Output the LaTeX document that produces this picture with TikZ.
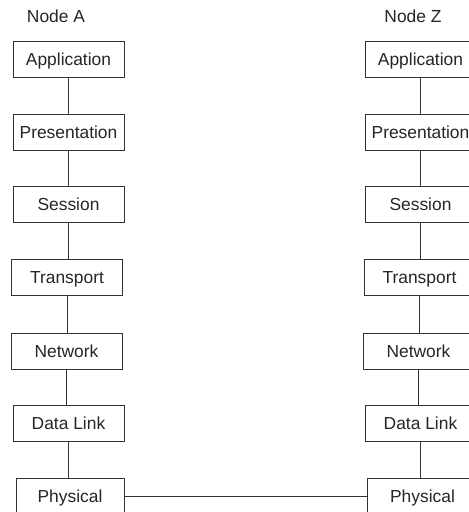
\documentclass[tikz,border=0pt]{standalone}
\usepackage{fontspec}
\setmainfont{Liberation Sans}
\begin{document}
\begin{tikzpicture}[x=1pt,y=-1pt,
  layer/.style={draw=black!80, line width=0.9pt, fill=white, text=black!85,
    minimum width=111pt, minimum height=36pt, inner sep=0pt,
    text height=12.5pt, text depth=0pt,
    font=\fontsize{17.4}{20}\selectfont},
  title/.style={text=black!85, inner sep=0pt, text height=12.5pt, text depth=0pt,
    font=\fontsize{17.4}{20}\selectfont},
  link/.style={draw=black!80, line width=0.9pt}]
\useasboundingbox (0,0) rectangle (469,512);
\clip (0,0) rectangle (469,512);

% End system A
\node[title] (titleA) at (56,16) {Node A};
\node[layer] (a7) at (68.5,59)  {Application};
\node[layer] (a6) at (68.5,132) {Presentation};
\node[layer] (a5) at (68.5,204.5) {Session};
\node[layer] (a4) at (67,277.5) {Transport};
\node[layer] (a3) at (66.5,351) {Network};
\node[layer] (a2) at (68.5,423) {Data Link};
\node[layer, minimum width=108pt] (a1) at (70,496) {Physical};

% End system Z
\node[title] (titleZ) at (413,16) {Node Z};
\node[layer] (z7) at (420.5,59)  {Application};
\node[layer] (z6) at (420.5,132) {Presentation};
\node[layer] (z5) at (420.5,204.5) {Session};
\node[layer] (z4) at (419.5,277.5) {Transport};
\node[layer] (z3) at (418.5,351) {Network};
\node[layer] (z2) at (420.5,423) {Data Link};
\node[layer] (z1) at (422.5,496) {Physical};

% Vertical links inside each stack
\foreach \s in {a,z}{
  \foreach \u/\l in {7/6,6/5,5/4,4/3,3/2,2/1}{
    \draw[link] (\s\u.south) -- (\s\u.south |- \s\l.north);
  }
}

% Physical medium between the two systems
\draw[link] (a1.east) -- (z1.west);
\end{tikzpicture}
\end{document}
